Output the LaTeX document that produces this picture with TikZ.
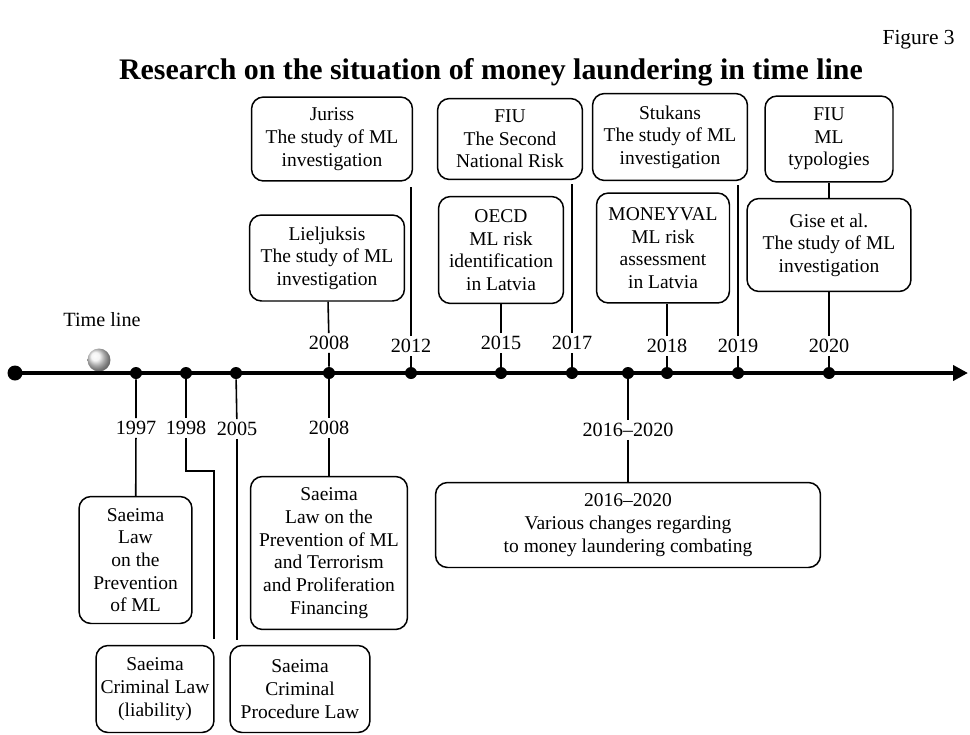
\documentclass[tikz,border=0pt]{standalone}
\usepackage{fontspec}
\setmainfont{Liberation Serif}
\usetikzlibrary{arrows.meta}

\begin{document}
\begin{tikzpicture}[x=0.02cm,y=-0.02cm,
  evbox/.style={draw, line width=0.85pt, rounded corners=0.24cm, align=center, inner sep=0pt, font=\fontsize{11.1}{12.9}\selectfont},
  yr/.style={inner sep=1.5pt, font=\fontsize{11.5}{13}\selectfont},
  tick/.style={circle, fill=black, inner sep=0pt, minimum size=0.24cm},
  conn/.style={line width=0.9pt}]
\useasboundingbox (0,0) rectangle (970,734);
% heading
\node[anchor=east, inner sep=0pt, font=\fontsize{12.2}{14}\selectfont] (fig) at (955,40) {Figure 3};
\node[font=\fontsize{17}{20}\selectfont\bfseries] (title) at (491,72) {Research on the situation of money laundering in time line};

% the time line itself
\node[yr] (tl) at (102,320) {Time line};
\shade[ball color=gray!12] (99,360) circle (0.23cm);
\node[tick, minimum size=0.3cm] (start) at (15,373) {};
\coordinate (end) at (968,373);
\draw[line width=2.7pt, -{Triangle[length=8.5pt,width=8.5pt]}] (start.center) -- (end);
\foreach \n/\x in {1997/136,1998/186,2005/236,2008/329,2012/411,2015/501,2017/572,1620/628,2018/667,2019/738,2020/829}
  \node[tick] (t\n) at (\x,373) {};

% years above
\node[yr] (u2008) at (329,343) {2008};
\node[yr] (u2012) at (411,346) {2012};
\node[yr] (u2015) at (501,343) {2015};
\node[yr] (u2017) at (572,343) {2017};
\node[yr] (u2018) at (667,346) {2018};
\node[yr] (u2019) at (738,346) {2019};
\node[yr] (u2020) at (829,346) {2020};
% years below
\node[yr] (d1997) at (136,428) {1997};
\node[yr] (d1998) at (186,428) {1998};
\node[yr] (d2005) at (237,429) {2005};
\node[yr] (d2008) at (329,428) {2008};
\node[yr] (d1620) at (628,430) {2016--2020};

% upper boxes
\node[evbox, minimum width=3.22cm, minimum height=1.68cm] (juriss) at (332,139) {Juriss\\The study of ML\\investigation};
\node[evbox, minimum width=3.10cm, minimum height=1.72cm] (liel) at (327,258) {Lieljuksis\\The study of ML\\investigation};
\node[evbox, minimum width=2.90cm, minimum height=1.62cm] (fiu2) at (510,139) {FIU\\The Second\\National Risk};
\node[evbox, minimum width=2.50cm, minimum height=2.14cm] (oecd) at (501,250) {OECD\\ML risk\\identification\\in Latvia};
\node[evbox, minimum width=3.10cm, minimum height=1.74cm] (stuk) at (670,137) {Stukans\\The study of ML\\investigation};
\node[evbox, minimum width=2.66cm, minimum height=2.20cm] (money) at (663,248) {MONEYVAL\\ML risk\\assessment\\in Latvia};
\node[evbox, minimum width=2.56cm, minimum height=1.72cm] (fiut) at (829,139) {FIU\\ML\\typologies};
\node[evbox, minimum width=3.28cm, minimum height=1.86cm] (gise) at (829,245) {Gise et al.\\The study of ML\\investigation};
% lower boxes
\node[evbox, minimum width=2.26cm, minimum height=2.54cm] (prev) at (135.5,560) {Saeima\\Law\\on the\\Prevention\\of ML};
\node[evbox, minimum width=2.36cm, minimum height=1.74cm] (crim) at (155,689) {Saeima\\Criminal Law\\(liability)};
\node[evbox, minimum width=2.80cm, minimum height=1.74cm] (proc) at (300,689) {Saeima\\Criminal\\Procedure Law};
\node[evbox, minimum width=3.14cm, minimum height=3.06cm] (terr) at (329,553) {Saeima\\Law on the\\Prevention of ML\\and Terrorism\\and Proliferation\\Financing};
\node[evbox, minimum width=7.70cm, minimum height=1.70cm] (chg) at (628,525) {2016--2020\\Various changes regarding\\to money laundering combating};

% connectors above
\draw[conn] (t2008) -- (u2008) (u2008) -- (liel);
\draw[conn] (t2012) -- (u2012);
\draw[conn, shorten >=0.1cm] (u2012) -- (u2012 |- juriss.south);
\draw[conn] (t2015) -- (u2015) (u2015) -- (oecd);
\draw[conn] (t2017) -- (u2017);
\draw[conn, shorten >=0.08cm] (u2017) -- (u2017 |- fiu2.south);
\draw[conn] (t2018) -- (u2018) (u2018) -- (u2018 |- money.south);
\draw[conn] (t2019) -- (u2019);
\draw[conn, shorten >=0.08cm] (u2019) -- (u2019 |- stuk.south);
\draw[conn] (t2020) -- (u2020) (u2020) -- (gise) (gise) -- (fiut);
% connectors below
\draw[conn] (t1997) -- (d1997) (d1997) -- (prev);
\coordinate (k1998) at (214,471);
\draw[conn] (t1998) -- (d1998);
\draw[conn, shorten >=0.12cm] (d1998) |- (k1998) -- (k1998 |- crim.north);
\draw[conn] (t2005) -- (d2005);
\draw[conn, shorten >=0.1cm] (d2005) -- (d2005 |- proc.north);
\draw[conn] (t2008) -- (d2008) (d2008) -- (terr);
\draw[conn] (t1620) -- (d1620) (d1620) -- (chg);
\end{tikzpicture}
\end{document}
